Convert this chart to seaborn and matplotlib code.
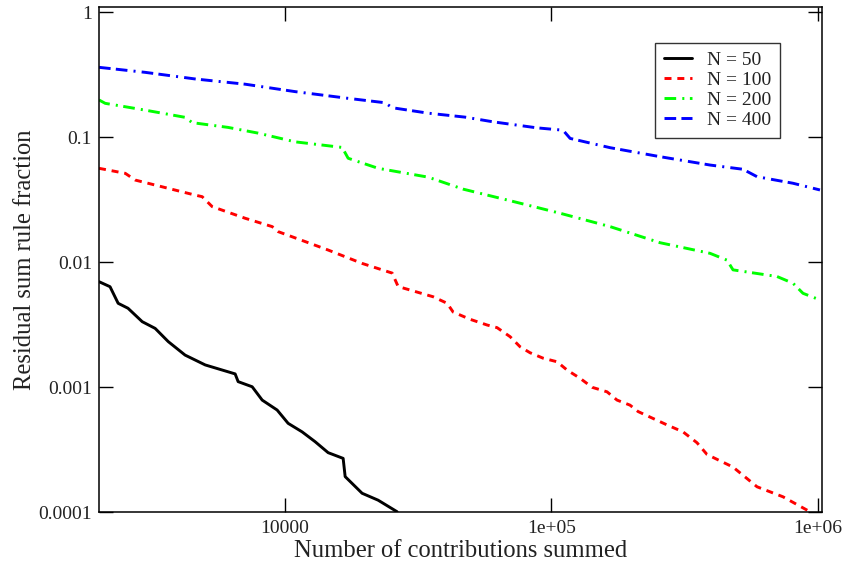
import numpy as np
import pandas as pd
import matplotlib
matplotlib.use("Agg")
import matplotlib.pyplot as plt
from matplotlib.ticker import FixedLocator, NullLocator, FixedFormatter
import seaborn as sns

# ---- data ----
x_n50 = [2000, 2200, 2360, 2570, 2906, 3250, 3640, 4210, 5010, 5800, 6490, 6660,
         7520, 8200, 9330, 10260, 11580, 12960, 14500, 16510, 16800, 19450, 22340, 26330]
y_n50 = [0.0070, 0.00638, 0.0047, 0.00429, 0.00335, 0.00296, 0.00232, 0.00181,
         0.00151, 0.001375, 0.00128, 0.00111, 0.00101, 0.00079, 0.000658, 0.000515,
         0.00044, 0.000367, 0.00030, 0.00027, 0.000193, 0.000142, 0.000125, 0.000101]

x_n100 = [2000, 2510, 2735, 3450, 4590, 4880, 5320, 7080, 8940, 9410, 14500, 19450,
          25220, 26560, 35950, 40570, 42730, 49490, 57330, 62500, 69940, 76230, 83100,
          93000, 105000, 114400, 128100, 142100, 161700, 176300, 197200, 211400,
          271600, 311900, 352000, 383800, 480500, 591400, 740300, 934900]
y_n100 = [0.0565, 0.0515, 0.0455, 0.0402, 0.0345, 0.0335, 0.0279, 0.0225, 0.0193,
          0.0176, 0.01254, 0.0098, 0.0082, 0.0064, 0.0053, 0.0047, 0.0040, 0.0035,
          0.00315, 0.0030, 0.00254, 0.00211, 0.00189, 0.00171, 0.0016, 0.001375,
          0.00118, 0.0010, 0.00092, 0.00079, 0.00072, 0.00064, 0.00050, 0.00044,
          0.00036, 0.00029, 0.00023, 0.00016, 0.000133, 0.000101]

x_n200 = [2000, 2110, 2980, 4210, 4480, 6110, 7920, 10900, 16370, 17240, 22340,
          34430, 46580, 69940, 107700, 166000, 255600, 393900, 456200, 480500,
          702700, 807100, 879800, 1019000]
y_n200 = [0.199, 0.187, 0.165, 0.1445, 0.131, 0.120, 0.108, 0.092, 0.083, 0.068,
          0.0565, 0.048, 0.0385, 0.0311, 0.0247, 0.0193, 0.01435, 0.0118, 0.0104,
          0.0087, 0.0077, 0.0068, 0.00565, 0.0050]

x_n400 = [2000, 2980, 4590, 7080, 10900, 17240, 23730, 25220, 34430, 47400, 60370,
          88300, 110500, 117500, 166000, 255600, 393900, 523900, 591400, 807100, 1019000]
y_n400 = [0.363, 0.331, 0.293, 0.266, 0.232, 0.205, 0.189, 0.1725, 0.156, 0.145,
          0.133, 0.119, 0.114, 0.098, 0.0826, 0.070, 0.060, 0.0555, 0.0484, 0.0429,
          0.0379]

series_labels = ["N = 50", "N = 100", "N = 200", "N = 400"]
x_ticks = [1e4, 1e5, 1e6]
x_tick_labels = ["10000", "1e+05", "1e+06"]
y_ticks = [1e-4, 1e-3, 1e-2, 1e-1, 1]
y_tick_labels = ["0.0001", "0.001", "0.01", "0.1", "1"]

frames = []
for lab, xs, ys in zip(series_labels, [x_n50, x_n100, x_n200, x_n400],
                       [y_n50, y_n100, y_n200, y_n400]):
    frames.append(pd.DataFrame({"x": xs, "y": ys, "N": lab}))
df = pd.concat(frames, ignore_index=True)

# ---- style ----
sns.set_theme(style="white")
plt.rcParams["font.family"] = ["Liberation Serif", "DejaVu Serif"]
plt.rcParams["axes.edgecolor"] = "black"
plt.rcParams["axes.linewidth"] = 1.1

palette = {"N = 50": "#000000", "N = 100": "#ff0000",
           "N = 200": "#00ff00", "N = 400": "#0000ff"}
dashes = {"N = 50": "",
          "N = 100": (2.4, 2.0),
          "N = 200": (4.0, 2.1, 0.7, 1.9),
          "N = 400": (4.0, 1.8, 4.0, 2.1, 0.7, 2.1)}

fig = plt.figure(figsize=(8.44, 5.65), dpi=100)
ax = fig.add_axes([99 / 844, (565 - 512.3) / 565,
                   (821.5 - 99) / 844, (512.3 - 6.7) / 565])

sns.lineplot(data=df, x="x", y="y", hue="N", style="N",
             hue_order=series_labels, style_order=series_labels,
             palette=palette, dashes=dashes, estimator=None, sort=False,
             linewidth=2.1, ax=ax, legend="full")

ax.set_xscale("log")
ax.set_yscale("log")
ax.set_xlim(2000, 1.0325e6)
ax.set_ylim(1e-4, 1.109)

ax.xaxis.set_major_locator(FixedLocator(x_ticks))
ax.xaxis.set_major_formatter(FixedFormatter(x_tick_labels))
ax.xaxis.set_minor_locator(NullLocator())
ax.yaxis.set_major_locator(FixedLocator(y_ticks))
ax.yaxis.set_major_formatter(FixedFormatter(y_tick_labels))
ax.yaxis.set_minor_locator(NullLocator())

ax.tick_params(axis="both", which="major", direction="in", length=10, width=1.0,
               color="black", labelsize=14, labelcolor="#222222",
               top=True, right=True, bottom=True, left=True)
ax.tick_params(axis="x", pad=5.5)
ax.tick_params(axis="y", pad=5)

ax.set_xlabel("Number of contributions summed", fontsize=17.7, color="#222222", labelpad=2.5)
ax.set_ylabel("Residual sum rule fraction", fontsize=17.7, color="#222222", labelpad=2)

for sp in ax.spines.values():
    sp.set_visible(True)
    sp.set_color("black")
    sp.set_linewidth(1.1)

old = ax.get_legend()
if old is not None:
    old.remove()
leg = ax.legend(ax.lines[:4], series_labels, loc="upper left",
                bbox_to_anchor=((655 - 99) / 722.5, (512.3 - 42.7) / 505.6),
                borderaxespad=0, fontsize=14, frameon=True, fancybox=False,
                shadow=False, framealpha=1, edgecolor="#333333",
                handlelength=1.45, handletextpad=0.75, labelspacing=0.12,
                borderpad=0.45)
leg.get_frame().set_linewidth(1.0)
for t in leg.get_texts():
    t.set_color("#222222")

fig.savefig("out.png", dpi=100)
